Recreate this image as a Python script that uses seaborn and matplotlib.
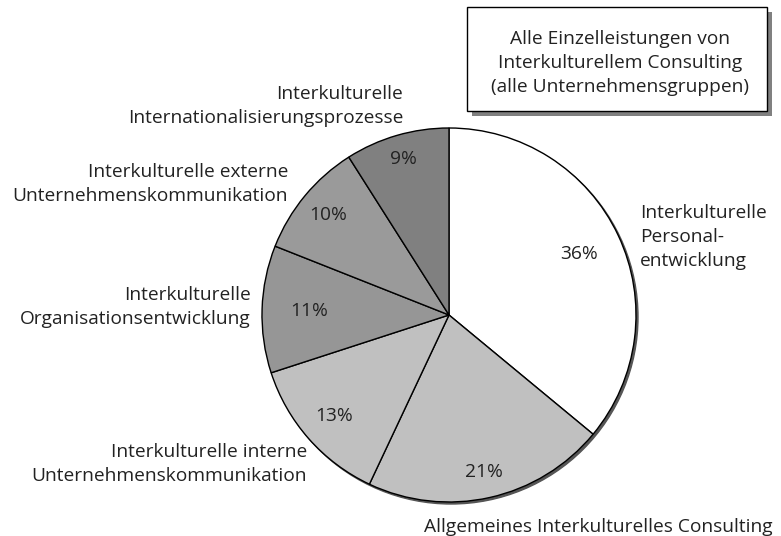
import matplotlib
matplotlib.use('Agg')
import matplotlib.pyplot as plt
import seaborn as sns
import numpy as np
from matplotlib.patches import Circle, Rectangle

# Daten
categories = [
    'Interkulturelle\nPersonal-\nentwicklung',
    'Allgemeines Interkulturelles Consulting',
    'Interkulturelle interne\nUnternehmenskommunikation',
    'Interkulturelle\nOrganisationsentwicklung',
    'Interkulturelle externe\nUnternehmenskommunikation',
    'Interkulturelle\nInternationalisierungsprozesse',
]
shares = [36, 21, 13, 11, 10, 9]
box_title = 'Alle Einzelleistungen von\nInterkulturellem Consulting\n(alle Unternehmensgruppen)'

# Stil
sns.set_theme(style='white')
plt.rcParams['font.family'] = ['Open Sans', 'DejaVu Sans']
fs = 13.8
txt_color = '#222222'
slice_colors = ['#ffffff', '#c0c0c0', '#c0c0c0', '#969696', '#9a9a9a', '#808080']

W, H = 781, 536
fig = plt.figure(figsize=(W / 100, H / 100), dpi=100)
ax = fig.add_axes([0, 0, 1, 1])

cx, cy, r = 449, H - 315, 187

# Schatten des Kreises
ax.add_patch(Circle((cx + 2, cy - 2), r, color='#555555', zorder=1))

wedges, _ = ax.pie(shares, colors=slice_colors, startangle=90, counterclock=False,
                   center=(cx, cy), radius=r,
                   wedgeprops=dict(edgecolor='black', linewidth=1))
for w in wedges:
    w.set_zorder(2)

ax.set_xlim(0, W)
ax.set_ylim(0, H)
ax.set_aspect('equal')
ax.axis('off')

# Prozentangaben
pct_dist = [0.77, 0.86, 0.82, 0.75, 0.84, 0.87]
for w, v, d in zip(wedges, shares, pct_dist):
    ang = np.deg2rad((w.theta1 + w.theta2) / 2)
    ax.text(cx + d * r * np.cos(ang), cy + d * r * np.sin(ang), f'{v}%',
            ha='center', va='center', fontsize=fs, color=txt_color, zorder=3)

# Beschriftungen
label_pos = [(640, 237, 'left'), (598, 527, 'center'), (307, 464, 'right'),
             (251, 307, 'right'), (288, 184, 'right'), (403, 106, 'right')]
for lab, (x, y, ha) in zip(categories, label_pos):
    ax.text(x, H - y, lab, ha=ha, va='center', multialignment=ha,
            fontsize=fs, color=txt_color, linespacing=1.45)

# Legendenkasten mit Schatten
bx0, bx1, by0, by1 = 467, 767, 7, 111
ax.add_patch(Rectangle((bx0 + 5, H - by1 - 5), bx1 - bx0, by1 - by0,
                       facecolor='#808080', edgecolor='none', zorder=4))
ax.add_patch(Rectangle((bx0, H - by1), bx1 - bx0, by1 - by0,
                       facecolor='white', edgecolor='black', linewidth=1, zorder=5))
ax.text(620, H - 63, box_title, ha='center', va='center', multialignment='center',
        fontsize=fs, color=txt_color, linespacing=1.45, zorder=6)

fig.savefig('out.png', dpi=100)
